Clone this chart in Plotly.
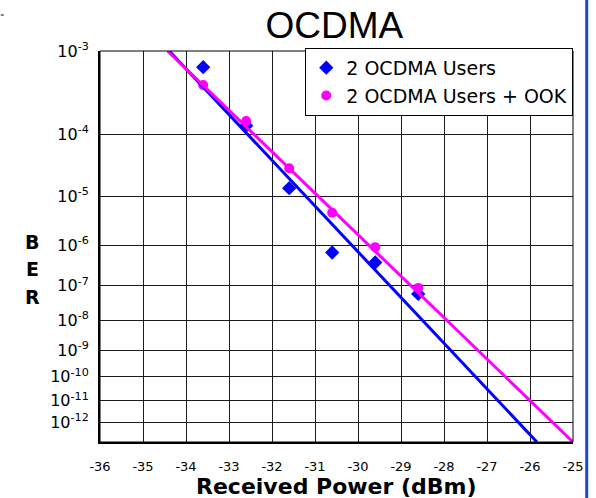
import math
import plotly.graph_objects as go

# Measured BER versus received optical power
power_dbm = [-33.6, -32.6, -31.6, -30.6, -29.6, -28.6]
ber_2users = [6.8e-4, 1.33e-4, 1.41e-5, 6.85e-7, 3.96e-7, 6.0e-8]
ber_2users_ook = [4.3e-4, 1.54e-4, 3.08e-5, 4.9e-6, 9.1e-7, 8.8e-8]

# Straight-line fits (in the Q scale), given by their end points
fit_ber = [1e-3, 1e-13]
fit_power_2users = [-34.39, -25.84]
fit_power_2users_ook = [-34.43, -25.0]

# Axis ticks
power_ticks = [-36, -35, -34, -33, -32, -31, -30, -29, -28, -27, -26, -25]
power_labels = ["-36", "-35", "-34", "-33", "-32", "-31", "-30", "-29", "-28", "-27", "-26", "-25"]
ber_ticks = [1e-3, 1e-4, 1e-5, 1e-6, 1e-7, 1e-8, 1e-9, 1e-10, 1e-11, 1e-12]
ber_labels = ["10<sup>-3</sup>", "10<sup>-4</sup>", "10<sup>-5</sup>", "10<sup>-6</sup>",
              "10<sup>-7</sup>", "10<sup>-8</sup>", "10<sup>-9</sup>", "10<sup>-10</sup>",
              "10<sup>-11</sup>", "10<sup>-12</sup>"]
ber_range = [1e-13, 1e-3]


def q_factor(ber):
    """Invert BER = 0.5*erfc(Q/sqrt(2)) by bisection."""
    lo, hi = 0.0, 12.0
    for _ in range(200):
        mid = 0.5 * (lo + hi)
        if 0.5 * math.erfc(mid / math.sqrt(2)) > ber:
            lo = mid
        else:
            hi = mid
    return 0.5 * (lo + hi)


def ber_scale(values):
    """Map BER onto the log(Q) scale used for BER plots."""
    return [math.log10(q_factor(v)) for v in values]


BLUE = "#0000FF"
MAGENTA = "#FF00FF"
TXT = "DejaVu Sans, Arial, sans-serif"

fig = go.Figure()

fig.add_trace(go.Scatter(
    x=power_dbm, y=ber_scale(ber_2users), mode="markers",
    name="2 OCDMA Users", legendgroup="a",
    marker=dict(symbol="diamond", size=11, color=BLUE),
))
fig.add_trace(go.Scatter(
    x=power_dbm, y=ber_scale(ber_2users_ook), mode="markers",
    name="2 OCDMA Users + OOK", legendgroup="b",
    marker=dict(symbol="circle", size=10, color=MAGENTA),
))
fig.add_trace(go.Scatter(
    x=fit_power_2users, y=ber_scale(fit_ber), mode="lines",
    line=dict(color=BLUE, width=3), showlegend=False, hoverinfo="skip",
))
fig.add_trace(go.Scatter(
    x=fit_power_2users_ook, y=ber_scale(fit_ber), mode="lines",
    line=dict(color=MAGENTA, width=3), showlegend=False, hoverinfo="skip",
))

fig.update_xaxes(
    range=[power_ticks[0], power_ticks[-1]],
    tickvals=power_ticks, ticktext=power_labels,
    tickfont=dict(family=TXT, size=13, color="black"),
    ticks="", ticklabelstandoff=11,
    showgrid=True, gridcolor="#1a1a1a", gridwidth=1,
    zeroline=False, showline=True, linecolor="black", linewidth=2,
)
fig.update_yaxes(
    range=ber_scale(ber_range),
    tickvals=ber_scale(ber_ticks), ticktext=ber_labels,
    tickfont=dict(family=TXT, size=16, color="black"),
    ticks="", ticklabelstandoff=6,
    showgrid=True, gridcolor="#1a1a1a", gridwidth=1,
    zeroline=False, showline=True, linecolor="black", linewidth=2,
)

shapes = [
    # thin frame round the plot area
    dict(type="rect", xref="paper", yref="paper", x0=0, x1=1, y0=0, y1=1,
         line=dict(color="black", width=1), layer="above"),
    # blue page rule on the right
    dict(type="line", xref="paper", yref="paper", x0=1.029, x1=1.029, y0=-0.15, y1=1.14,
         line=dict(color="#1f45d6", width=3)),
    # small mark in the top-left corner
    dict(type="line", xref="paper", yref="paper", x0=-0.2097, x1=-0.2034, y0=1.092, y1=1.092,
         line=dict(color="black", width=1)),
]

annotations = [
    dict(text="<b>Received Power (dBm)</b>", xref="paper", yref="paper", x=0.5, y=0,
         yshift=-44, xanchor="center", yanchor="middle", showarrow=False,
         font=dict(family=TXT, size=22, color="black")),
]
for letter, ypix in zip(["B", "E", "R"], [242, 269, 297]):
    annotations.append(dict(
        text="<b>%s</b>" % letter, xref="paper", yref="paper", x=0, xshift=-68,
        y=(442 - ypix) / 391.0, xanchor="center", yanchor="middle", showarrow=False,
        font=dict(family=TXT, size=19, color="black"),
    ))

fig.update_layout(
    width=596, height=498,
    margin=dict(l=100, r=19, t=51, b=56),
    paper_bgcolor="white", plot_bgcolor="white",
    title=dict(text="OCDMA", x=0.561, xanchor="center", y=1 - 25.5 / 498, yanchor="middle",
               font=dict(family="Liberation Sans, Arial, sans-serif", size=37, color="black")),
    legend=dict(
        x=0.434, y=1.008, xanchor="left", yanchor="top",
        bgcolor="white", bordercolor="black", borderwidth=1,
        font=dict(family=TXT, size=19, color="black"),
        tracegroupgap=0, traceorder="grouped",
    ),
    shapes=shapes,
    annotations=annotations,
    showlegend=True,
)

fig.write_html("out.html")
